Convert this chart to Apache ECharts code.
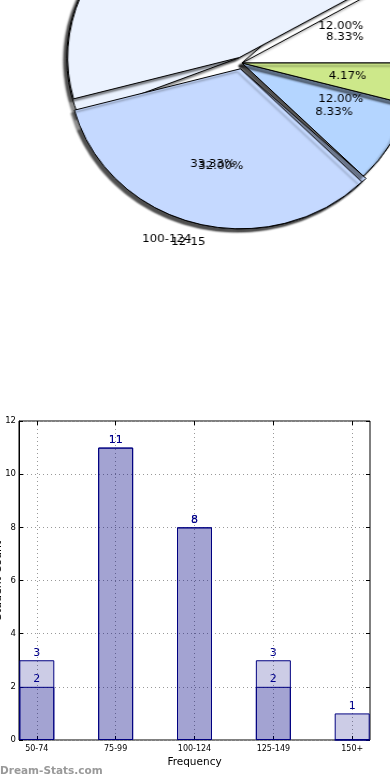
<!DOCTYPE html>
<html><head><meta charset="utf-8">
<script src="https://cdn.jsdelivr.net/npm/echarts/dist/echarts.min.js"></script>
<style>
html,body{margin:0;padding:0;background:#fff;overflow:hidden;width:390px;height:780px}
#bar{position:absolute;left:0;top:0;width:390px;height:780px}
#pie{position:absolute;left:0;top:0;width:390px;height:390px;transform:scaleX(1.074);transform-origin:242px 0}
</style>
</head><body><div id="bar"></div><div id="pie"></div>
<script>
// ---- data ----
const pieCatsA = ['50-74', '75-99', '100-124', '125-149', '150+'];
const pieValsA = [2, 11, 8, 2, 1];
const pieCatsB = ['6-8', '9-11', '12-15', '16-19'];
const pieValsB = [3, 11, 8, 3];
const barCats = ['50-74', '75-99', '100-124', '125-149', '150+'];
const barBack = [3, 11, 8, 3, 1];
const barFront = [2, 11, 8, 2, 0];
const yMin = 0, yMax = 12, yStep = 2;

// ---- styling ----
const pieColors = ['#ffffff', '#ebf2fe', '#c5d9ff', '#b4d5ff', '#cde88a'];
const CX = 242, CY = 63, R = 160, EXPL = 6;
const explodeIdx = [1, 2];
const FONT = 'DejaVu Sans';
const sum = a => a.reduce((s, v) => s + v, 0);

function mainPie(names, vals, z) {
  return {
    type: 'pie', z: z, center: [CX, CY], radius: [0, R],
    startAngle: 0, clockwise: false, silent: true, animation: false,
    selectedMode: 'multiple', selectedOffset: EXPL, avoidLabelOverlap: false,
    labelLayout: { hideOverlap: false, moveOverlap: null },
    itemStyle: { borderColor: '#000', borderWidth: 1, shadowColor: 'rgba(0,0,0,0.45)',
      shadowBlur: 2, shadowOffsetX: -3, shadowOffsetY: 3 },
    label: { show: true, position: 'outside', formatter: '{b}', color: '#000',
      fontFamily: FONT, fontSize: 11, distanceToLabelLine: 0 },
    labelLine: { show: false, length: R * 0.1, length2: 0 },
    data: names.map((n, i) => ({ name: n, value: vals[i], selected: explodeIdx.includes(i),
      itemStyle: { color: pieColors[i] } }))
  };
}
function pctPie(names, vals, z) {
  const tot = sum(vals);
  return {
    type: 'pie', z: z, center: [CX, CY], radius: [R * 0.6 - 0.5, R * 0.6 + 0.5],
    startAngle: 0, clockwise: false, silent: true, animation: false, avoidLabelOverlap: false,
    selectedMode: 'multiple', selectedOffset: EXPL,
    labelLayout: { hideOverlap: false, moveOverlap: null },
    itemStyle: { color: 'rgba(0,0,0,0)', borderWidth: 0 },
    label: { show: true, position: 'inside', color: '#000', fontFamily: FONT, fontSize: 11,
      formatter: p => (p.value / tot * 100).toFixed(2) + '%' },
    labelLine: { show: false },
    data: names.map((n, i) => ({ name: n, value: vals[i], selected: explodeIdx.includes(i) }))
  };
}

const pie = echarts.init(document.getElementById('pie'), null, { renderer: 'canvas' });
pie.setOption({
  animation: false,
  series: [
    mainPie(pieCatsB, pieValsB, 2),
    mainPie(pieCatsA, pieValsA, 3),
    pctPie(pieCatsA, pieValsA, 5),
    pctPie(pieCatsB, pieValsB, 6)
  ]
});

const barStyle = { color: 'rgba(0,0,128,0.2)', borderColor: '#000080', borderWidth: 1 };
const barLabel = { show: true, position: 'top', distance: 2, color: '#00008b', fontFamily: FONT,
  fontSize: 11, formatter: p => (p.value ? String(p.value) : '') };

const chart = echarts.init(document.getElementById('bar'), null, { renderer: 'canvas' });
chart.setOption({
  animation: false,
  backgroundColor: '#fff',
  title: { text: 'Dream-Stats.com', left: -5, top: 761,
    textStyle: { color: '#999999', fontSize: 10.5, fontWeight: 'bold', fontFamily: FONT } },
  grid: [
    { left: 19, right: 20, top: 421, bottom: 40, show: true, borderColor: '#000', borderWidth: 1,
      containLabel: false, outerBoundsMode: 'none' },
    { left: 36.8, right: 37.8, top: 421, bottom: 40, containLabel: false, outerBoundsMode: 'none' }
  ],
  xAxis: [
    { gridIndex: 0, type: 'value', show: false, min: 0, max: 1 },
    { gridIndex: 1, type: 'category', data: barCats, boundaryGap: false,
      axisLine: { show: false }, axisTick: { inside: true, length: 4, lineStyle: { color: '#000' } },
      axisLabel: { fontSize: 8, color: '#000', margin: 5, fontFamily: FONT },
      splitLine: { show: true, lineStyle: { type: [1, 3], color: '#999' } },
      name: 'Frequency', nameLocation: 'middle', nameGap: 17,
      nameTextStyle: { fontSize: 10.5, color: '#000', fontFamily: FONT } },
    { gridIndex: 1, type: 'category', data: barCats, boundaryGap: false, position: 'top',
      axisLine: { show: false }, axisTick: { inside: true, length: 4, lineStyle: { color: '#000' } },
      axisLabel: { show: false } }
  ],
  yAxis: [
    { gridIndex: 0, type: 'value', min: yMin, max: yMax, interval: yStep,
      axisLine: { show: true, lineStyle: { color: '#000' } },
      axisTick: { inside: true, length: 4, lineStyle: { color: '#000' } },
      axisLabel: { fontSize: 8.5, color: '#000', margin: 3, fontFamily: FONT },
      splitLine: { show: true, lineStyle: { type: [1, 3], color: '#999' } },
      name: 'Student Count', nameLocation: 'middle', nameGap: 15, nameMoveOverlap: false,
      nameTextStyle: { fontSize: 11, color: '#000', fontFamily: FONT } },
    { gridIndex: 0, type: 'value', min: yMin, max: yMax, interval: yStep, position: 'right',
      axisLine: { show: false }, axisTick: { show: true, inside: true, length: 4, lineStyle: { color: '#000' } },
      axisLabel: { show: false }, splitLine: { show: false } },
    { gridIndex: 1, type: 'value', min: yMin, max: yMax, interval: yStep, show: false }
  ],
  series: [
    { type: 'bar', xAxisIndex: 1, yAxisIndex: 2, data: barBack, barWidth: 35, barGap: '-100%',
      clip: false, itemStyle: barStyle, label: barLabel, silent: true, z: 3 },
    { type: 'bar', xAxisIndex: 1, yAxisIndex: 2, data: barFront, barWidth: 35, barGap: '-100%',
      clip: false, itemStyle: barStyle, label: barLabel, silent: true, z: 4 }
  ]
});
</script></body></html>
